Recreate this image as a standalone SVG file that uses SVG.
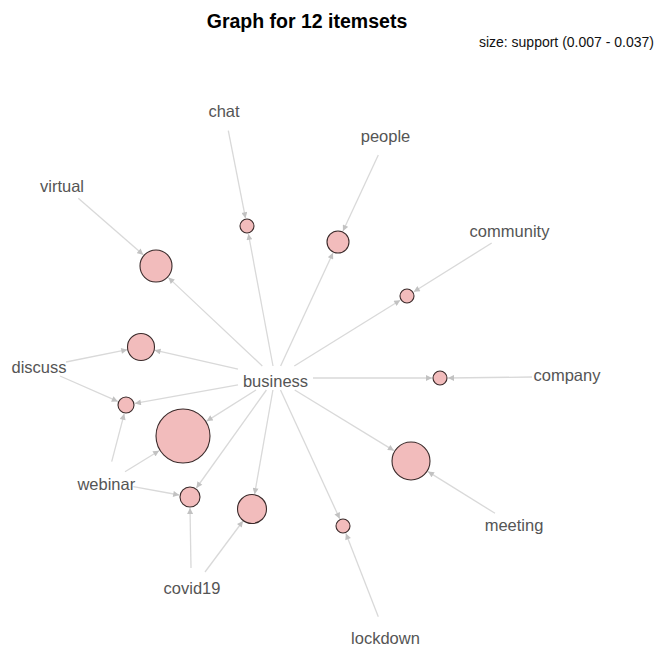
<svg xmlns="http://www.w3.org/2000/svg" width="660" height="650" viewBox="0 0 660 650">
<style>
.t{font-family:"Liberation Sans",Arial,Helvetica,sans-serif;}
.title{font-size:19.5px;font-weight:bold;fill:#000;text-anchor:middle;}
.sub{font-size:14px;fill:#111;text-anchor:end;}
.lbl{font-size:16.5px;fill:#555;text-anchor:middle;}
.e{stroke:#d9d9d9;stroke-width:1.3;fill:none;marker-end:url(#ah);}
.n{fill:#f2bcbc;stroke:#3a2a2a;stroke-width:1.1;}
</style>
<defs>
<marker id="ah" viewBox="0 0 10 10" refX="10" refY="5" markerWidth="7" markerHeight="6" markerUnits="userSpaceOnUse" orient="auto">
<path d="M0,0 L10,5 L0,10 z" fill="#c2c2c2"/>
</marker>
</defs>
<rect width="660" height="650" fill="#fff"/>
<text class="t title" x="307" y="28">Graph for 12 itemsets</text>
<text class="t sub" x="654" y="47">size: support (0.007 - 0.037)</text>
<g id="edges">
<line class="e" x1="273" y1="366" x2="248.4" y2="233.9"/>
<line class="e" x1="280.6" y1="366" x2="333" y2="252.9"/>
<line class="e" x1="262.3" y1="366" x2="168.4" y2="277.6"/>
<line class="e" x1="294.3" y1="366" x2="400.2" y2="300.2"/>
<line class="e" x1="238" y1="369.2" x2="154.6" y2="350.2"/>
<line class="e" x1="313" y1="378" x2="432" y2="378"/>
<line class="e" x1="238" y1="384.9" x2="134.9" y2="403.4"/>
<line class="e" x1="256" y1="390" x2="206.7" y2="421.1"/>
<line class="e" x1="294.7" y1="390" x2="393.9" y2="450.6"/>
<line class="e" x1="266.4" y1="390" x2="196.4" y2="488"/>
<line class="e" x1="272.9" y1="390" x2="254.6" y2="494.2"/>
<line class="e" x1="280.5" y1="390" x2="339.7" y2="518.7"/>
<line class="e" x1="228.3" y1="130.7" x2="245.5" y2="218.2"/>
<line class="e" x1="378.3" y1="155" x2="343" y2="231.1"/>
<line class="e" x1="78.3" y1="198.3" x2="143.2" y2="254.8"/>
<line class="e" x1="491.7" y1="243" x2="413.8" y2="291.8"/>
<line class="e" x1="66" y1="362" x2="127.3" y2="349.7"/>
<line class="e" x1="60" y1="376" x2="117.8" y2="401.4"/>
<line class="e" x1="532" y1="377" x2="448" y2="378"/>
<line class="e" x1="111.7" y1="461.7" x2="124.2" y2="413.8"/>
<line class="e" x1="125" y1="471.7" x2="159.1" y2="450.7"/>
<line class="e" x1="133.3" y1="486.7" x2="179.2" y2="495"/>
<line class="e" x1="495" y1="513.3" x2="428" y2="471.6"/>
<line class="e" x1="191" y1="568" x2="190" y2="508"/>
<line class="e" x1="205" y1="572" x2="243" y2="521"/>
<line class="e" x1="378.3" y1="616.7" x2="345.9" y2="533.5"/>
</g>
<g id="n-chat-business"><circle class="n" cx="247" cy="226" r="7"/></g>
<g id="n-people-business"><circle class="n" cx="338" cy="242" r="11"/></g>
<g id="n-virtual-business"><circle class="n" cx="156" cy="266" r="16"/></g>
<g id="n-community-business"><circle class="n" cx="407" cy="296" r="7"/></g>
<g id="n-discuss-business"><circle class="n" cx="141" cy="347" r="13.5"/></g>
<g id="n-company-business"><circle class="n" cx="440" cy="378" r="7"/></g>
<g id="n-discuss-webinar-business"><circle class="n" cx="126" cy="405" r="8"/></g>
<g id="n-webinar-business"><circle class="n" cx="183" cy="436" r="27"/></g>
<g id="n-meeting-business"><circle class="n" cx="411" cy="461" r="19"/></g>
<g id="n-webinar-covid19-business"><circle class="n" cx="190" cy="497" r="10"/></g>
<g id="n-covid19-business"><circle class="n" cx="252" cy="509" r="14.5"/></g>
<g id="n-lockdown-business"><circle class="n" cx="343" cy="526" r="7"/></g>
<g id="i-chat"><text class="t lbl" x="224" y="117">chat</text></g>
<g id="i-people"><text class="t lbl" x="385.5" y="142">people</text></g>
<g id="i-virtual"><text class="t lbl" x="62" y="192">virtual</text></g>
<g id="i-community"><text class="t lbl" x="509.5" y="237">community</text></g>
<g id="i-discuss"><text class="t lbl" x="39" y="373">discuss</text></g>
<g id="i-business"><text class="t lbl" x="275.5" y="386.5">business</text></g>
<g id="i-company"><text class="t lbl" x="567" y="381">company</text></g>
<g id="i-webinar"><text class="t lbl" x="106.3" y="489.5">webinar</text></g>
<g id="i-meeting"><text class="t lbl" x="514" y="530.5">meeting</text></g>
<g id="i-covid19"><text class="t lbl" x="192" y="594">covid19</text></g>
<g id="i-lockdown"><text class="t lbl" x="385.5" y="644">lockdown</text></g>
</svg>
